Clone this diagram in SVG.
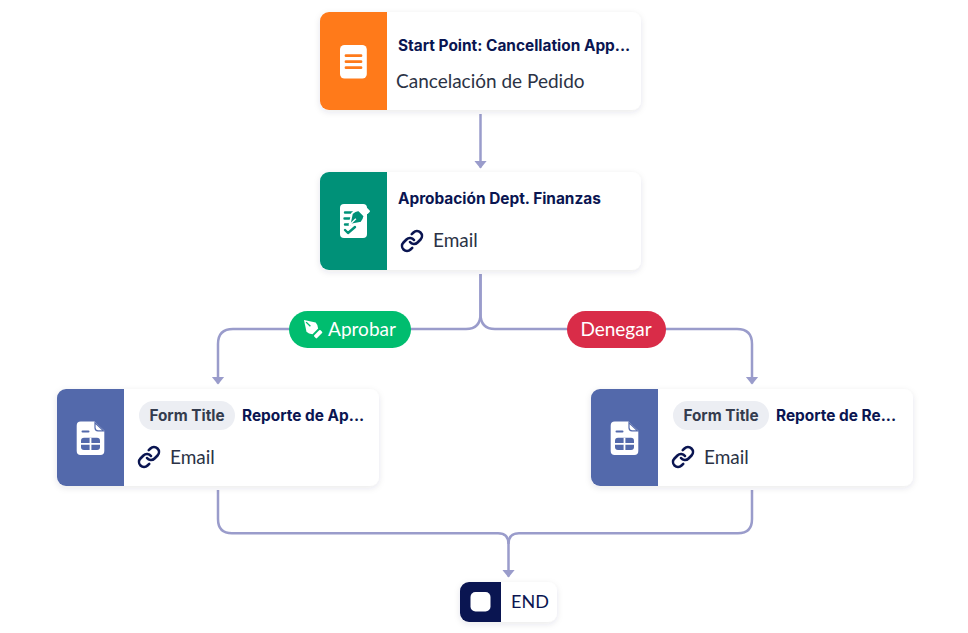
<svg xmlns="http://www.w3.org/2000/svg" width="968" height="633" viewBox="0 0 968 633">
<style>
.card{fill:#fff;filter:url(#sh)}
.title{font:700 15.4px "Inter","Noto Sans",sans-serif;fill:#0a1551}
.body{font:400 19px "Lato","Noto Sans",sans-serif;fill:#2b3245}
.conn{fill:none;stroke:#9a9ccb;stroke-width:2.5}
.pill{font:400 19px "Lato","Noto Sans",sans-serif;fill:#fff;text-anchor:middle}
.tag{font:700 15.3px "Inter","Noto Sans",sans-serif;fill:#343c4e;text-anchor:middle}
.link{fill:none;stroke:#0a1551;stroke-width:2.6;stroke-linecap:round;stroke-linejoin:round}
</style>
<defs>
<filter id="sh" x="-10%" y="-20%" width="120%" height="140%"><feDropShadow dx="0" dy="2" stdDeviation="3" flood-color="#25294a" flood-opacity="0.11"/></filter>
<marker id="arr" markerUnits="userSpaceOnUse" markerWidth="8" markerHeight="14" refX="7" refY="7" orient="auto" viewBox="0 0 8 14"><path d="M0 .5L8 7L0 13.5Z" fill="#9a9ccb"/></marker>
<g id="lk"><path class="link" d="M10 13a5 5 0 0 0 7.540.540l3-3a5 5 0 0 0-7.070-7.070l-1.720 1.710"/><path class="link" d="M14 11a5 5 0 0 0-7.540-.540l-3 3a5 5 0 0 0 7.070 7.070l1.710-1.710"/></g>
<g id="doc"><path fill="#fff" d="M-9.800-16.700H4L13.800-7.500V12.700a4 4 0 0 1-4 4H-9.800a4 4 0 0 1-4-4V-12.700a4 4 0 0 1 4-4Z"/><path d="M4.500-15.500 13-7.500H7.500a3 3 0 0 1-3-3Z" fill="#fff" stroke="#5369ab" stroke-width="1.200"/><path d="M-8-6.700H-2" stroke="#5369ab" stroke-width="2" stroke-linecap="round"/><rect x="-9.500" y="-.6" width="19" height="12.400" rx="3" fill="#5369ab"/><path d="M-9.500 5.500H9.500M0-.6V11.800" stroke="#fff" stroke-width="1.800"/></g>
</defs>

<g id="connectors">
<path class="conn" marker-end="url(#arr)" d="M480.500 114V167.500"/>
<path class="conn" marker-end="url(#arr)" d="M480.500 274V314Q480.500 329 466 329H233Q218 329 218 344V383.500"/>
<path class="conn" marker-end="url(#arr)" d="M480.500 274V314Q480.500 329 495 329H737Q752 329 752 344V383.500"/>
<path class="conn" d="M218 490V519Q218 533.300 232 533.300H498Q508.500 533.300 508.500 544"/>
<path class="conn" marker-end="url(#arr)" d="M752 490V519Q752 533.300 738 533.300H519Q508.500 533.300 508.500 544V576.500"/>
</g>

<g id="node-start">
<rect class="card" x="320" y="12" width="321" height="98" rx="9"/>
<path d="M387 12H329a9 9 0 0 0-9 9V101a9 9 0 0 0 9 9H387Z" fill="#ff7a1a"/>
<rect x="340" y="45" width="26.800" height="33.500" rx="4.500" fill="#fff"/>
<path d="M346 55.700H361M346 61.700H361M346 67.700H361" stroke="#ff7a1a" stroke-width="2.800" stroke-linecap="round"/>
<text class="title" x="398" y="51">Start Point: Cancellation App...</text>
<text class="body" x="396" y="88">Cancelación de Pedido</text>
</g>

<g id="node-approval">
<rect class="card" x="320" y="172" width="321" height="98" rx="9"/>
<path d="M387 172H329a9 9 0 0 0-9 9V261a9 9 0 0 0 9 9H387Z" fill="#009178"/>
<rect x="340" y="204" width="27" height="34" rx="4" fill="#fff"/>
<path d="M345 212.500H352M344.500 218.500H351M345 224.500H350M345 230l3 3 7-6" fill="none" stroke="#009178" stroke-width="2.400" stroke-linecap="round" stroke-linejoin="round"/>
<g transform="translate(349.500 225) rotate(45)">
<path d="M0 0L-6.500-10Q-6.500-14-4-17H4Q6.500-14 6.500-10Z" fill="#009178" stroke="#fff" stroke-width="1.800" stroke-linejoin="round"/>
<path d="M0-1V-9" stroke="#fff" stroke-width="1.400"/>
<rect x="-5" y="-24.500" width="10" height="4.500" rx="1" fill="#fff"/>
</g>
<use href="#lk" x="400" y="229"/>
<text class="title" x="398" y="204">Aprobación Dept. Finanzas</text>
<text class="body" x="433" y="247">Email</text>
</g>

<g id="label-aprobar">
<rect x="289" y="311" width="122" height="37" rx="18.500" fill="#00bd6f"/>
<g transform="translate(304 320) rotate(-45)">
<path d="M0 0L6.500 10Q6.500 13 4 16H-4Q-6.500 13-6.500 10Z" fill="#fff"/>
<path d="M0 3V9" stroke="#00bd6f" stroke-width="1.400"/>
<rect x="-4.500" y="18" width="9" height="4" rx="1" fill="#fff"/>
</g>
<text class="pill" x="362" y="336">Aprobar</text>
</g>
<g id="label-denegar">
<rect x="567" y="311" width="99" height="37" rx="18.500" fill="#d92c48"/>
<text class="pill" x="616" y="336">Denegar</text>
</g>

<g id="node-report-a">
<rect class="card" x="57" y="389" width="322" height="97" rx="9"/>
<path d="M124 389H66a9 9 0 0 0-9 9V477a9 9 0 0 0 9 9H124Z" fill="#5369ab"/>
<use href="#doc" x="90.500" y="438.300"/>
<rect x="139" y="401" width="96" height="29" rx="14.500" fill="#eceef3"/>
<text class="tag" x="187" y="421">Form Title</text>
<text class="title" x="242" y="421">Reporte de Ap...</text>
<use href="#lk" x="137" y="445"/>
<text class="body" x="170" y="464">Email</text>
</g>

<g id="node-report-r">
<rect class="card" x="591" y="389" width="322" height="97" rx="9"/>
<path d="M658 389H600a9 9 0 0 0-9 9V477a9 9 0 0 0 9 9H658Z" fill="#5369ab"/>
<use href="#doc" x="624.500" y="438.300"/>
<rect x="673" y="401" width="96" height="29" rx="14.500" fill="#eceef3"/>
<text class="tag" x="721" y="421">Form Title</text>
<text class="title" x="776" y="421">Reporte de Re...</text>
<use href="#lk" x="671" y="445"/>
<text class="body" x="704" y="464">Email</text>
</g>

<g id="node-end">
<rect class="card" x="460" y="582" width="97" height="40" rx="9"/>
<path d="M501 582H469a9 9 0 0 0-9 9V613a9 9 0 0 0 9 9H501Z" fill="#0a1551"/>
<rect x="470.500" y="592" width="20" height="19.500" rx="5" fill="#fff"/>
<text x="511" y="608" style="font:400 18px 'Lato','Noto Sans',sans-serif;fill:#0a1551">END</text>
</g>
</svg>
